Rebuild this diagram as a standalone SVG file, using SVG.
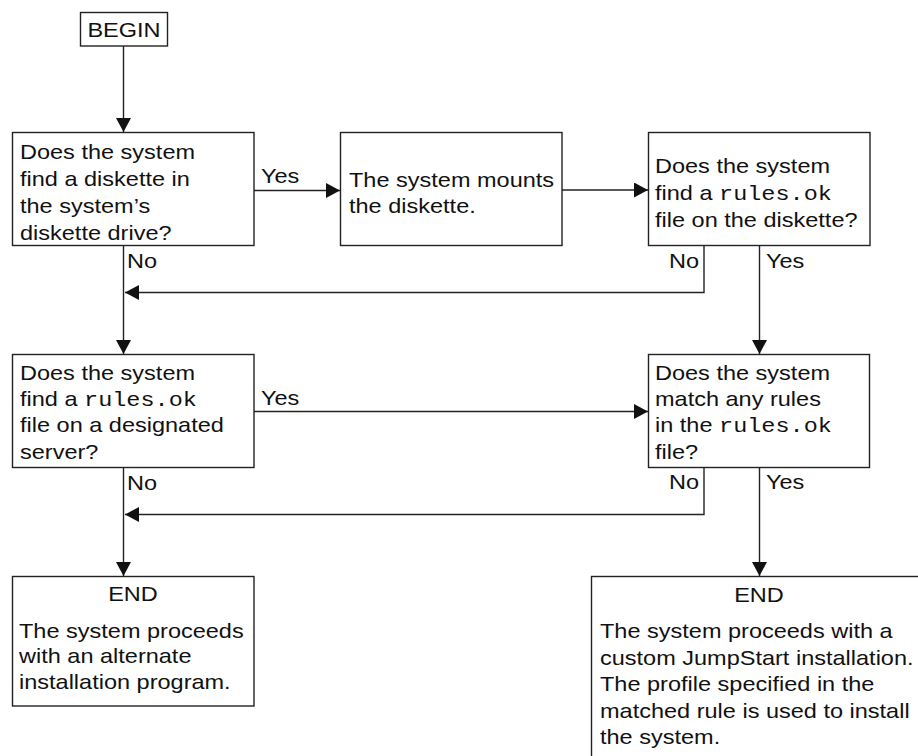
<svg xmlns="http://www.w3.org/2000/svg" width="918" height="756" viewBox="0 0 918 756">
<style>
.box{fill:#fff;stroke:#222;stroke-width:1.4}
.t{font-family:"Liberation Sans",Arial,Helvetica,sans-serif;font-size:21px;fill:#111}
.m{font-family:"Liberation Mono","Courier New",monospace}
.c{fill:none;stroke:#222;stroke-width:1.4}
</style>
<defs>
<marker id="ah" viewBox="0 0 14 15" refX="14" refY="7.5" markerWidth="14" markerHeight="15" markerUnits="userSpaceOnUse" orient="auto">
<path d="M0,0 L14,7.5 L0,15 z" fill="#111"/>
</marker>
</defs>
<rect width="918" height="756" fill="#fff"/>
<g id="connectors">
<path class="c" d="M123.5,46 V132" marker-end="url(#ah)"/>
<path class="c" d="M254,190.5 H340" marker-end="url(#ah)"/>
<path class="c" d="M562,190 H648" marker-end="url(#ah)"/>
<path class="c" d="M123.5,246 V354" marker-end="url(#ah)"/>
<path class="c" d="M704,246 V292.5 H125" marker-end="url(#ah)"/>
<path class="c" d="M759.5,246 V354" marker-end="url(#ah)"/>
<path class="c" d="M254,411.5 H648" marker-end="url(#ah)"/>
<path class="c" d="M123.5,468 V576" marker-end="url(#ah)"/>
<path class="c" d="M704,468 V514.5 H125" marker-end="url(#ah)"/>
<path class="c" d="M759.5,468 V576" marker-end="url(#ah)"/>
<text class="t" transform="translate(261,183) scale(1.12,1)">Yes</text>
<text class="t" transform="translate(127,268) scale(1.12,1)">No</text>
<text class="t" text-anchor="end" transform="translate(699,268) scale(1.12,1)">No</text>
<text class="t" transform="translate(766,268) scale(1.12,1)">Yes</text>
<text class="t" transform="translate(261,405) scale(1.12,1)">Yes</text>
<text class="t" transform="translate(127,490) scale(1.12,1)">No</text>
<text class="t" text-anchor="end" transform="translate(699,489) scale(1.12,1)">No</text>
<text class="t" transform="translate(766,489) scale(1.12,1)">Yes</text>
</g>
<g id="begin">
<rect class="box" x="80.5" y="12.5" width="87" height="33.5"/>
<text class="t" text-anchor="middle" transform="translate(124,36.5) scale(1.12,1)">BEGIN</text>
</g>
<g id="q-diskette">
<rect class="box" x="12.5" y="132.5" width="241.5" height="113"/>
<text class="t" transform="translate(20,159.3) scale(1.12,1)"><tspan x="0" y="0">Does the system</tspan><tspan x="0" y="27">find a diskette in</tspan><tspan x="0" y="54">the system’s</tspan><tspan x="0" y="80.8">diskette drive?</tspan></text>
</g>
<g id="mount">
<rect class="box" x="340.5" y="132.5" width="221.5" height="113"/>
<text class="t" transform="translate(349,186.7) scale(1.12,1)"><tspan x="0" y="0">The system mounts</tspan><tspan x="0" y="26.6">the diskette.</tspan></text>
</g>
<g id="q-rules-diskette">
<rect class="box" x="648.5" y="132.5" width="221.5" height="113"/>
<text class="t" transform="translate(655,173.3) scale(1.12,1)"><tspan x="0" y="0">Does the system</tspan><tspan x="0" y="27">find a <tspan class="m">rules.ok</tspan></tspan><tspan x="0" y="53.5">file on the diskette?</tspan></text>
</g>
<g id="q-rules-server">
<rect class="box" x="12.5" y="354.5" width="241.5" height="113"/>
<text class="t" transform="translate(20,379.5) scale(1.12,1)"><tspan x="0" y="0">Does the system</tspan><tspan x="0" y="27">find a <tspan class="m">rules.ok</tspan></tspan><tspan x="0" y="53">file on a designated</tspan><tspan x="0" y="80">server?</tspan></text>
</g>
<g id="q-match">
<rect class="box" x="648.5" y="354.5" width="221" height="113"/>
<text class="t" transform="translate(655,379.5) scale(1.12,1)"><tspan x="0" y="0">Does the system</tspan><tspan x="0" y="27">match any rules</tspan><tspan x="0" y="53">in the <tspan class="m">rules.ok</tspan></tspan><tspan x="0" y="80">file?</tspan></text>
</g>
<g id="end-alternate">
<rect class="box" x="12.5" y="576.5" width="241.5" height="129.5"/>
<text class="t" text-anchor="middle" transform="translate(133,601) scale(1.12,1)">END</text>
<text class="t" transform="translate(19,637.7) scale(1.12,1)"><tspan x="0" y="0">The system proceeds</tspan><tspan x="0" y="25.8">with an alternate</tspan><tspan x="0" y="51.5">installation program.</tspan></text>
</g>
<g id="end-jumpstart">
<rect class="box" x="591.5" y="576.5" width="340" height="200"/>
<text class="t" text-anchor="middle" transform="translate(759,601.5) scale(1.12,1)">END</text>
<text class="t" transform="translate(600,638.3) scale(1.12,1)"><tspan x="0" y="0">The system proceeds with a</tspan><tspan x="0" y="26.5">custom JumpStart installation.</tspan><tspan x="0" y="53.2">The profile specified in the</tspan><tspan x="0" y="80">matched rule is used to install</tspan><tspan x="0" y="105.5">the system.</tspan></text>
</g>
</svg>
